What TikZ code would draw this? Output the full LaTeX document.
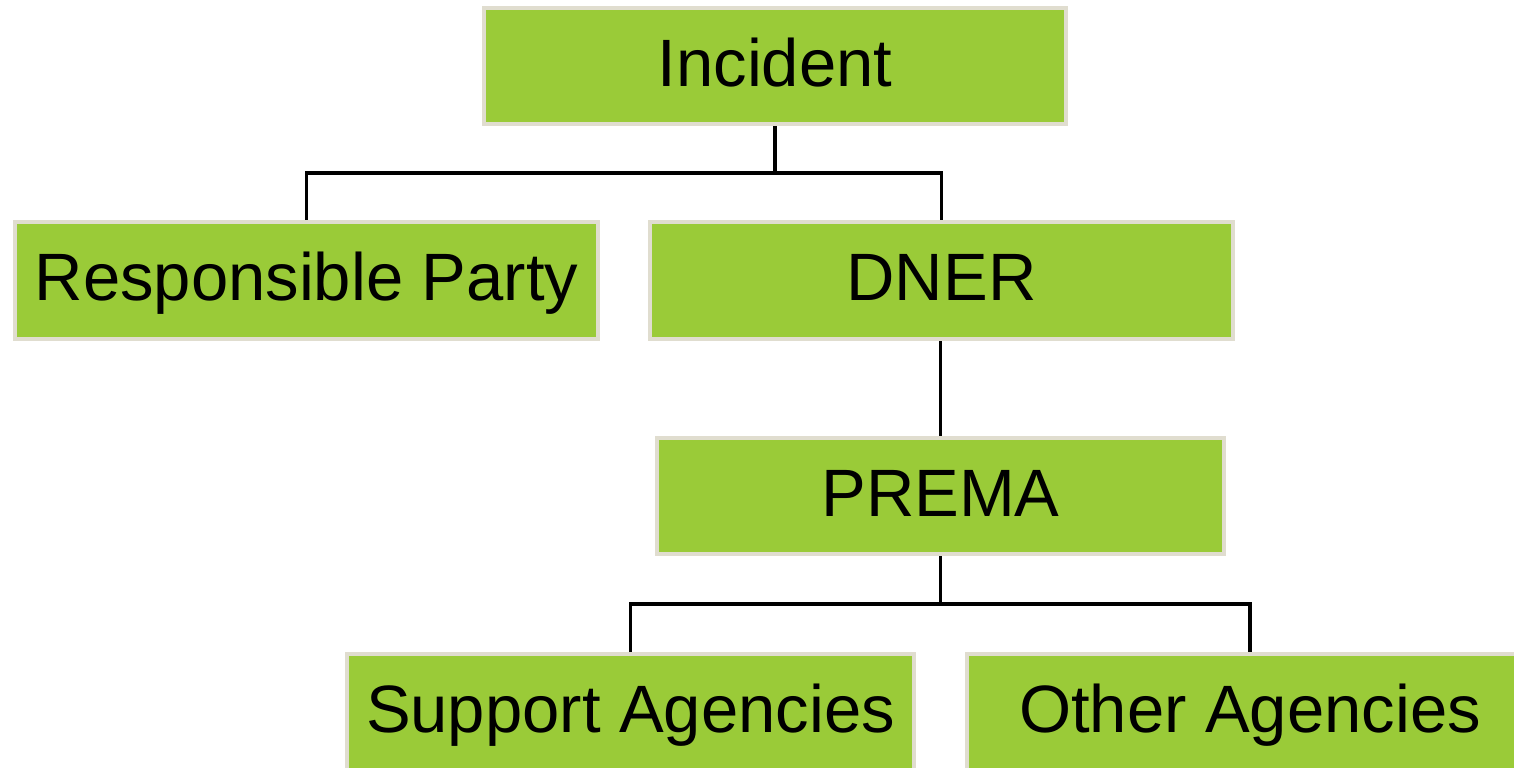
\documentclass[tikz,border=0pt]{standalone}
\usepackage{fontspec}
\setmainfont{Liberation Sans}
\usetikzlibrary{positioning,calc}
\definecolor{boxgreen}{HTML}{9ACB38}
\definecolor{boxedge}{HTML}{E0DDCF}
\tikzset{
  org/.style={draw=boxedge, line width=2pt, fill=boxgreen, font=\fontsize{33.5}{40}\selectfont,
    minimum height=58pt, inner sep=0pt, text depth=4pt, text height=24pt},
  link/.style={line width=1.6pt, black}
}
\begin{document}
\begin{tikzpicture}[x=0.5pt, y=-0.5pt]
\useasboundingbox (0,0) rectangle (1514,767);
\node[org, minimum width=291pt] (inc) at (775,66) {Incident};
\node[org, minimum width=291.5pt, minimum height=58.5pt] (rp) at (306.5,280.5) {Responsible Party};
\node[org, minimum width=291.5pt, minimum height=58.5pt] (dner) at (941.5,280.5) {DNER};
\node[org, minimum width=283.5pt] (prema) at (940.5,496) {PREMA};
\node[org, minimum width=283.5pt] (sup) at (630.5,712) {Support Agencies};
\node[org, minimum width=283pt] (oth) at (1250,712) {Other Agencies};
\coordinate (j1) at (775,173);
\coordinate (j2) at (940.5,604);
\draw[link] (inc.south) -- (j1) -| (rp.north);
\draw[link] (j1) -| (dner.north);
\draw[link] (prema.north |- dner.south) -- (prema.north);
\draw[link] (prema.south) -- (j2) -| (sup.north);
\draw[link] (j2) -| (oth.north);
\end{tikzpicture}
\end{document}
